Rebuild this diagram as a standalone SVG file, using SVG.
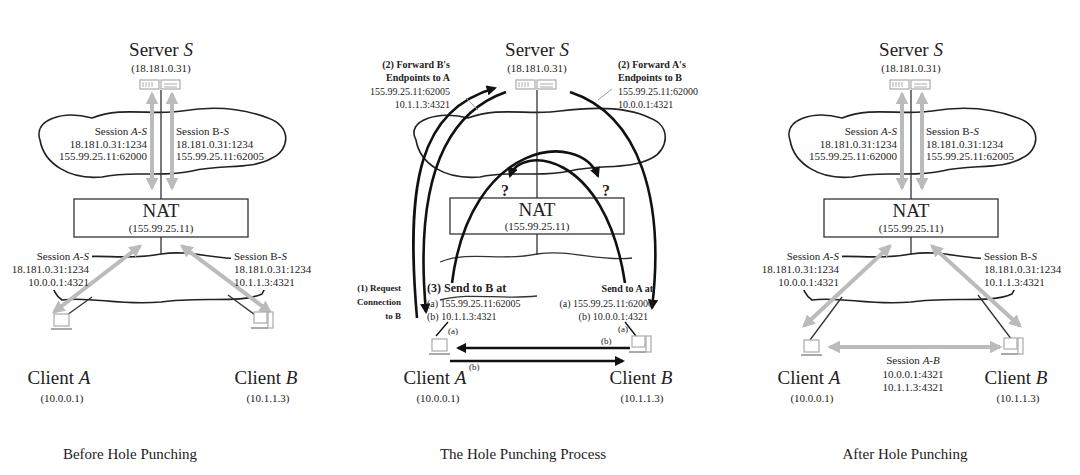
<svg xmlns="http://www.w3.org/2000/svg" width="1080" height="475" viewBox="0 0 1080 475" font-family="'Liberation Serif','DejaVu Serif',serif">
<style>
text{font-family:"Liberation Serif","DejaVu Serif",serif;fill:#222}
.big{font-size:19px;font-family:"Liberation Serif",serif}
.ip{font-size:11px}
.sm{font-size:10px}
.b{font-weight:bold}
.m{text-anchor:middle}
.e{text-anchor:end}
.cl{fill:#fff;stroke:#222;stroke-width:1.6}
.ln{stroke:#333;stroke-width:1.3;fill:none}
.ga{stroke:#bbb;stroke-width:4;fill:none;marker-start:url(#gs);marker-end:url(#ge)}
.ka{stroke:#111;stroke-width:2.6;fill:none;marker-end:url(#kh)}
.nat{fill:#fff;stroke:#333;stroke-width:1.3}
.ico{fill:#fff;stroke:#aaa;stroke-width:1.2}
.bg{fill:#fff}
</style>
<defs>
<marker id="ge" viewBox="0 0 10 10" refX="8" refY="5" markerWidth="3.2" markerHeight="3.2" orient="auto"><path d="M0,0L10,5L0,10z" fill="#bbb"/></marker>
<marker id="gs" viewBox="0 0 10 10" refX="2" refY="5" markerWidth="3.2" markerHeight="3.2" orient="auto"><path d="M10,0L0,5L10,10z" fill="#bbb"/></marker>
<marker id="kh" viewBox="0 0 10 10" refX="8" refY="5" markerWidth="4" markerHeight="4" orient="auto"><path d="M0,0L10,5L0,10z" fill="#111"/></marker>
<g id="srvIcon"><rect x="-21" y="-5" width="19" height="9" class="ico"/><rect x="0" y="-5" width="19" height="9" class="ico"/><path d="M-18,-3v5M-15,-3v5M-12,-3v5M-9,-3v5M3,-1h13M3,2h13" stroke="#aaa" stroke-width="1"/></g>
<g id="lapIcon"><rect x="-8" y="-10" width="15" height="12" class="ico"/><path d="M-11,5h21" stroke="#aaa" stroke-width="2"/></g>
<g id="pcIcon"><rect x="-8" y="-12" width="13" height="11" class="ico"/><rect x="6" y="-12" width="5" height="16" class="ico"/><path d="M-11,4h17" stroke="#aaa" stroke-width="2"/></g>
<path id="upCloud" d="M40,140 C33,120 62,110 92,118 C122,106 152,116 182,111 C212,106 242,108 268,118 C292,126 290,150 272,158 C252,170 222,164 192,171 C162,178 132,170 102,177 C70,180 44,164 40,140 Z"/>
<path id="loCloud" d="M62,262 C90,250 120,262 161,254 C195,249 215,262 262,258 C278,270 268,282 262,294 C240,304 200,296 161,302 C120,306 90,296 62,300 C48,290 50,270 62,262 Z"/>
<g id="loBg"><rect x="8" y="250" width="84" height="40" class="bg"/><rect x="231" y="250" width="84" height="40" class="bg"/></g>
</defs>

<!-- LEFT PANEL -->
<g id="left">
<g id="L-server"><text x="161" y="56" class="big m">Server <tspan font-style="italic">S</tspan></text><text x="161" y="72" class="ip m">(18.181.0.31)</text><use href="#srvIcon" x="161" y="85"/></g>
<use href="#upCloud" class="cl"/>
<use href="#loCloud" class="cl"/>
<use href="#loBg"/>
<g id="L-lines"><path d="M161,90V199M161,237V255M60,320L92,297M262,320L228,295" class="ln"/>
<path d="M152,94V188" class="ga"/><path d="M172,94V188" class="ga"/><path d="M140,246L54,312" class="ga"/><path d="M182,246L270,312" class="ga"/></g>
<g id="L-nat"><rect x="74" y="199" width="174" height="38" class="nat"/><text x="161" y="217" class="big m">NAT</text><text x="161" y="232" class="ip m">(155.99.25.11)</text></g>
<g id="L-sess" class="ip">
<text x="147" y="135" class="e">Session <tspan font-style="italic">A-S</tspan></text><text x="147" y="148" class="e">18.181.0.31:1234</text><text x="147" y="160" class="e">155.99.25.11:62000</text>
<text x="176" y="135">Session B-<tspan font-style="italic">S</tspan></text><text x="176" y="148">18.181.0.31:1234</text><text x="176" y="160">155.99.25.11:62005</text>
<text x="89" y="260" class="e">Session <tspan font-style="italic">A-S</tspan></text><text x="89" y="273" class="e">18.181.0.31:1234</text><text x="89" y="286" class="e">10.0.0.1:4321</text>
<text x="234" y="260">Session B-<tspan font-style="italic">S</tspan></text><text x="234" y="273">18.181.0.31:1234</text><text x="234" y="286">10.1.1.3:4321</text></g>
<g id="L-clientA"><use href="#lapIcon" x="62" y="324"/><text x="59" y="384" class="big m">Client <tspan font-style="italic">A</tspan></text><text x="62" y="402" class="ip m">(10.0.0.1)</text></g>
<g id="L-clientB"><use href="#pcIcon" x="262" y="324"/><text x="266" y="384" class="big m">Client <tspan font-style="italic">B</tspan></text><text x="268" y="402" class="ip m">(10.1.1.3)</text></g>
<text x="130" y="459" class="m" font-size="15">Before Hole Punching</text>
</g>

<!-- MIDDLE PANEL -->
<g id="middle">
<g id="M-server"><text x="537" y="56" class="big m">Server <tspan font-style="italic">S</tspan></text><text x="537" y="72" class="ip m">(18.181.0.31)</text><use href="#srvIcon" x="537" y="85"/></g>
<path d="M416,140 C405,120 440,110 468,118 C500,106 530,116 560,111 C600,106 630,108 650,118 C672,126 668,150 652,158 C630,170 600,164 570,171 C540,178 510,170 480,177 C445,180 420,164 416,140 Z" class="cl"/>
<path d="M440,262 C470,250 500,262 537,254 C570,249 600,262 632,258 M440,300 C470,292 500,300 537,296" class="ln"/>
<path d="M537,90V198M537,233V255" class="ln" stroke="#777"/>
<g id="M-nat"><rect x="450" y="198" width="174" height="36" class="nat"/><text x="537" y="216" class="big m">NAT</text><text x="537" y="230" class="ip m">(155.99.25.11)</text></g>
<g id="M-arcs">
<path d="M417,318 C405,180 420,110 495,88" class="ka"/>
<path d="M506,92 C440,115 415,190 426,312" class="ka"/>
<path d="M570,92 C640,115 665,200 652,308" class="ka"/>
<path d="M452,283 C470,140 580,130 598,176" class="ka"/>
<path d="M625,283 C605,150 520,145 510,176" class="ka"/>
<path d="M630,348H458" class="ka"/><path d="M450,361H623" class="ka"/>
</g>
<path d="M466,98L478,110M598,100L612,89" stroke="#999" stroke-width="1"/>
<path d="M436,336L448,322M625,322L636,336" stroke="#111" stroke-width="1.4"/>
<text x="505" y="196" class="m b" font-size="16">?</text><text x="606" y="196" class="m b" font-size="16">?</text>
<g id="M-labels" class="sm">
<text x="450" y="68" class="e b">(2) Forward B's</text><text x="450" y="81" class="e b">Endpoints to A</text><text x="450" y="95" class="e">155.99.25.11:62005</text><text x="450" y="108" class="e">10.1.1.3:4321</text>
<text x="618" y="68" class="b">(2) Forward A's</text><text x="618" y="81" class="b">Endpoints to B</text><text x="618" y="95">155.99.25.11:62000</text><text x="618" y="108">10.0.0.1:4321</text>
<text x="401" y="291" class="e b" font-size="9">(1) Request</text><text x="401" y="305" class="e b" font-size="9">Connection</text><text x="401" y="319" class="e b" font-size="9">to B</text>
<text x="427" y="292" class="b" font-size="12">(3) Send to B at</text><text x="427" y="307">(a) 155.99.25.11:62005</text><text x="427" y="320">(b) 10.1.1.3:4321</text>
<text x="653" y="292" class="e b">Send to A at</text><text x="653" y="307" class="e">(a) 155.99.25.11:62000</text><text x="648" y="320" class="e">(b) 10.0.0.1:4321</text>
<text x="448" y="334" font-size="9">(a)</text><text x="618" y="332" font-size="9">(a)</text>
<text x="601" y="344" font-size="9">(b)</text><text x="469" y="370" font-size="9">(b)</text></g>
<g id="M-clientA"><use href="#lapIcon" x="440" y="349"/><text x="435" y="384" class="big m">Client <tspan font-style="italic">A</tspan></text><text x="438" y="402" class="ip m">(10.0.0.1)</text></g>
<g id="M-clientB"><use href="#pcIcon" x="640" y="348"/><text x="641" y="384" class="big m">Client <tspan font-style="italic">B</tspan></text><text x="642" y="402" class="ip m">(10.1.1.3)</text></g>
<text x="523" y="459" class="m" font-size="15">The Hole Punching Process</text>
</g>

<!-- RIGHT PANEL -->
<g id="right" transform="translate(750,0)">
<g id="R-server"><text x="161" y="56" class="big m">Server <tspan font-style="italic">S</tspan></text><text x="161" y="72" class="ip m">(18.181.0.31)</text><use href="#srvIcon" x="161" y="85"/></g>
<use href="#upCloud" class="cl"/>
<use href="#loCloud" class="cl"/>
<use href="#loBg"/>
<g id="R-lines"><path d="M161,90V199M161,237V255M60,340L92,297M262,340L228,295" class="ln"/>
<path d="M152,94V188" class="ga"/><path d="M172,94V188" class="ga"/><path d="M140,246L54,326" class="ga"/><path d="M182,246L270,326" class="ga"/><path d="M80,347H250" class="ga"/></g>
<g id="R-nat"><rect x="74" y="199" width="174" height="38" class="nat"/><text x="161" y="217" class="big m">NAT</text><text x="161" y="232" class="ip m">(155.99.25.11)</text></g>
<g id="R-sess" class="ip">
<text x="147" y="135" class="e">Session <tspan font-style="italic">A-S</tspan></text><text x="147" y="148" class="e">18.181.0.31:1234</text><text x="147" y="160" class="e">155.99.25.11:62000</text>
<text x="176" y="135">Session B-<tspan font-style="italic">S</tspan></text><text x="176" y="148">18.181.0.31:1234</text><text x="176" y="160">155.99.25.11:62005</text>
<text x="89" y="260" class="e">Session <tspan font-style="italic">A-S</tspan></text><text x="89" y="273" class="e">18.181.0.31:1234</text><text x="89" y="286" class="e">10.0.0.1:4321</text>
<text x="234" y="260">Session B-<tspan font-style="italic">S</tspan></text><text x="234" y="273">18.181.0.31:1234</text><text x="234" y="286">10.1.1.3:4321</text>
<text x="163" y="364" class="m">Session <tspan font-style="italic">A-B</tspan></text><text x="163" y="378" class="m">10.0.0.1:4321</text><text x="163" y="391" class="m">10.1.1.3:4321</text></g>
<g id="R-clientA"><use href="#lapIcon" x="62" y="350"/><text x="59" y="384" class="big m">Client <tspan font-style="italic">A</tspan></text><text x="62" y="402" class="ip m">(10.0.0.1)</text></g>
<g id="R-clientB"><use href="#pcIcon" x="262" y="350"/><text x="266" y="384" class="big m">Client <tspan font-style="italic">B</tspan></text><text x="268" y="402" class="ip m">(10.1.1.3)</text></g>
<text x="155" y="459" class="m" font-size="15">After Hole Punching</text>
</g>
</svg>
